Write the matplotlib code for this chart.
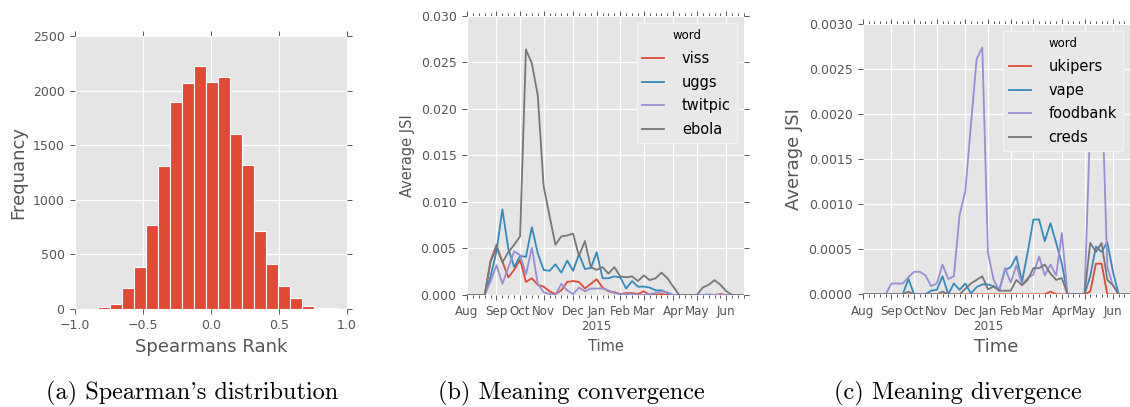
import matplotlib
matplotlib.use("Agg")
import matplotlib.pyplot as plt
import numpy as np
import pandas as pd

# ---- data ----
# (a) histogram of Spearman's rank
hist_lo, hist_hi = -0.83, 0.93
hist_counts = [20, 45, 190, 380, 770, 1310, 1900, 2065, 2225, 2080,
               2120, 1600, 1320, 715, 410, 210, 100, 25, 12, 12]

# weekly periods, Aug 2014 - Jun 2015
weeks = pd.date_range("2014-07-28", periods=48, freq="7D")

# (b) meaning convergence, values in units of 1e-3
viss = [0, 0, 0, 0, 3.6, 5.1, 3.6, 1.9, 2.7, 3.8, 1.4, 1.8, 1.1, 0.9, 0.4, 0.1,
        0.5, 1.4, 1.5, 1.4, 0.7, 1.2, 1.7, 0.8, 0.4, 0.3, 0.1, 0.2, 0.2, 0.1, 0.4, 0,
        0, 0.1, 0, 0, 0, 0, 0, 0, 0, 0, 0, 0.1, 0, 0, 0, 0]
uggs = [0, 0, 0, 0, 2.0, 4.7, 9.2, 5.0, 3.0, 4.2, 4.1, 7.3, 4.5, 2.7, 2.6, 3.3,
        2.4, 3.7, 2.6, 4.4, 2.8, 2.9, 4.6, 1.8, 1.8, 2.0, 1.9, 0.7, 1.5, 0.9, 0.9, 0.8,
        0.5, 0.5, 0.2, 0, 0, 0, 0, 0, 0, 0.05, 0, 0, 0, 0, 0, 0]
twitpic = [0, 0, 0, 0, 1.5, 3.2, 1.2, 2.9, 4.7, 4.3, 2.2, 5.1, 1.2, 0.3, 0.1, 0,
           1.2, 0.5, 0.1, 0.8, 0.4, 0.7, 0.7, 0.7, 0.5, 0.2, 0.1, 0.1, 0.1, 0, 0, 0.1,
           0.2, 0.4, 0.3, 0, 0, 0, 0, 0, 0, 0, 0, 0, 0, 0, 0, 0]
ebola = [0, 0, 0, 0, 3.7, 5.4, 3.5, 4.6, 5.4, 6.3, 26.4, 24.9, 21.5, 11.7, 8.5, 5.4,
         6.3, 6.4, 6.6, 4.2, 5.8, 3.0, 2.7, 3.0, 2.3, 3.0, 2.0, 1.9, 2.0, 1.5, 2.1, 1.6,
         1.8, 2.4, 1.8, 0.9, 0, 0, 0, 0, 0.8, 1.1, 1.6, 1.1, 0.4, 0, 0, 0]
words_b = ["viss", "uggs", "twitpic", "ebola"]

# (c) meaning divergence, values in units of 1e-4
ukipers = [0, 0, 0, 0, 0, 0, 0, 0, 0, 0, 0, 0, 0, 0, 0, 0,
           0, 0, 0, 0, 0, 0, 0, 0, 0, 0, 0, 0, 0, 0, 0, 0,
           0, 0.3, 0, 0, 0, 0, 0, 0, 0.3, 3.4, 3.4, 0, 0, 0, 0, 0]
vape = [0, 0, 0, 0, 0, 0, 0, 0, 1.7, 0, 0, 0, 0.4, 0.5, 2.0, 0,
        1.2, 0.5, 1.2, 0.1, 0.8, 1.1, 1.1, 0.9, 0.5, 2.7, 3.0, 4.2, 1.4, 4.7, 8.3, 8.3,
        5.9, 7.9, 5.7, 3.4, 0, 0, 0, 0, 2.0, 5.3, 4.7, 5.8, 2.5, 0, 0, 0]
foodbank = [0, 0, 0, 0, 0, 1.2, 1.2, 1.2, 1.9, 2.5, 2.5, 2.1, 0.9, 1.2, 3.3, 1.7,
            2.0, 8.8, 11.4, 18.8, 26.1, 27.4, 4.6, 1.6, 0.4, 2.9, 1.3, 3.2, 1.1, 1.8, 2.2, 4.2,
            2.1, 3.3, 2.1, 6.8, 0, 0, 0, 0, 19.0, 26.0, 24.0, 3.0, 1.0, 0, 0, 0]
creds = [0, 0, 0, 0, 0, 0, 0, 0, 0.3, 0, 0, 0, 0, 0, 0.3, 0,
         0, 0, 0.6, 1.2, 1.6, 2.0, 0.55, 0.85, 0.4, 0.4, 0.4, 1.6, 1.0, 1.6, 2.9, 2.9,
         3.3, 2.3, 1.6, 1.8, 0, 0, 0, 0, 5.7, 4.7, 5.7, 1.6, 1.0, 0, 0, 0]
words_c = ["ukipers", "vape", "foodbank", "creds"]

colors = ["#E24A33", "#348ABD", "#988ED5", "#777777"]
captions = ["(a) Spearman's distribution", "(b) Meaning convergence",
            "(c) Meaning divergence"]

GRAY = "#555555"


def style_ax(ax, labelsize=9):
    ax.set_facecolor("#E5E5E5")
    for s in ax.spines.values():
        s.set_visible(False)
    ax.grid(True, which="major", color="white", lw=0.9)
    ax.set_axisbelow(True)
    ax.tick_params(which="both", direction="out", top=True, right=True,
                   color=GRAY, labelcolor=GRAY, labelsize=labelsize, width=0.7)
    ax.tick_params(which="major", length=3.5, pad=4)
    ax.tick_params(which="minor", length=2)


def week_axis(ax):
    # pandas-style labels: the week that holds the 1st of each month
    starts = [d for d in weeks if (d + pd.Timedelta(days=6)).day <= 7]
    labels = []
    for d in starts:
        m = d + pd.Timedelta(days=6)
        lab = m.strftime("%b")
        if m.month == 1:
            lab += "\n" + str(m.year)
        labels.append(lab)
    ax.set_xticks(starts)
    ax.set_xticklabels(labels)
    ax.set_xticks(weeks, minor=True)
    ax.set_xlim(weeks[0], weeks[-1])
    ax.tick_params(axis="x", labelsize=8.6)


def word_legend(ax):
    leg = ax.legend(title="word", loc="upper right", fontsize=10.5,
                    title_fontsize=8.5, handlelength=1.5, handletextpad=1.2,
                    labelspacing=0.6, borderaxespad=0.5, fancybox=False,
                    framealpha=1)
    leg.get_frame().set_facecolor("#E8E8E8")
    leg.get_frame().set_edgecolor("#F2F2F2")


fig = plt.figure(figsize=(11.3, 4.07), dpi=100)

# (a)
ax1 = fig.add_axes([0.0664, 0.2408, 0.2407, 0.6708])
style_ax(ax1)
edges = np.linspace(hist_lo, hist_hi, len(hist_counts) + 1)
ax1.bar(edges[:-1], hist_counts, width=np.diff(edges), align="edge",
        color="#E24A33", edgecolor="white", linewidth=0.8)
ax1.set_xlim(-1, 1)
ax1.set_ylim(0, 2500)
ax1.set_xticks([-1.0, -0.5, 0.0, 0.5, 1.0])
ax1.set_yticks(range(0, 2501, 500))
ax1.set_xlabel("Spearmans Rank", fontsize=13, color=GRAY)
ax1.set_ylabel("Frequancy", fontsize=13, color=GRAY)

# (b)
ax2 = fig.add_axes([0.4133, 0.2752, 0.2451, 0.6855])
style_ax(ax2)
for w, vals, c in zip(words_b, [viss, uggs, twitpic, ebola], colors):
    ax2.plot(weeks, np.array(vals) * 1e-3, color=c, lw=1.3, label=w)
week_axis(ax2)
ax2.set_ylim(0, 0.030)
ax2.set_yticks(np.arange(0, 0.0301, 0.005))
ax2.yaxis.set_major_formatter(matplotlib.ticker.FormatStrFormatter("%.3f"))
ax2.set_xlabel("Time", fontsize=10.5, color=GRAY)
ax2.set_ylabel("Average JSI", fontsize=10.5, color=GRAY)
word_legend(ax2)

# (c)
ax3 = fig.add_axes([0.7637, 0.2769, 0.2363, 0.6641])
style_ax(ax3)
for w, vals, c in zip(words_c, [ukipers, vape, foodbank, creds], colors):
    ax3.plot(weeks, np.array(vals) * 1e-4, color=c, lw=1.3, label=w)
week_axis(ax3)
ax3.set_ylim(0, 0.0030)
ax3.set_yticks(np.arange(0, 0.00301, 0.0005))
ax3.yaxis.set_major_formatter(matplotlib.ticker.FormatStrFormatter("%.4f"))
ax3.set_xlabel("Time", fontsize=13, color=GRAY)
ax3.set_ylabel("Average JSI", fontsize=13, color=GRAY)
word_legend(ax3)

# captions
for x, txt in zip([192 / 1130, 571 / 1130, 958 / 1130], captions):
    fig.text(x, 1 - 393 / 407, txt, ha="center", va="center",
             family="cmr10", fontsize=17.5)

fig.savefig("out.png", dpi=100)
